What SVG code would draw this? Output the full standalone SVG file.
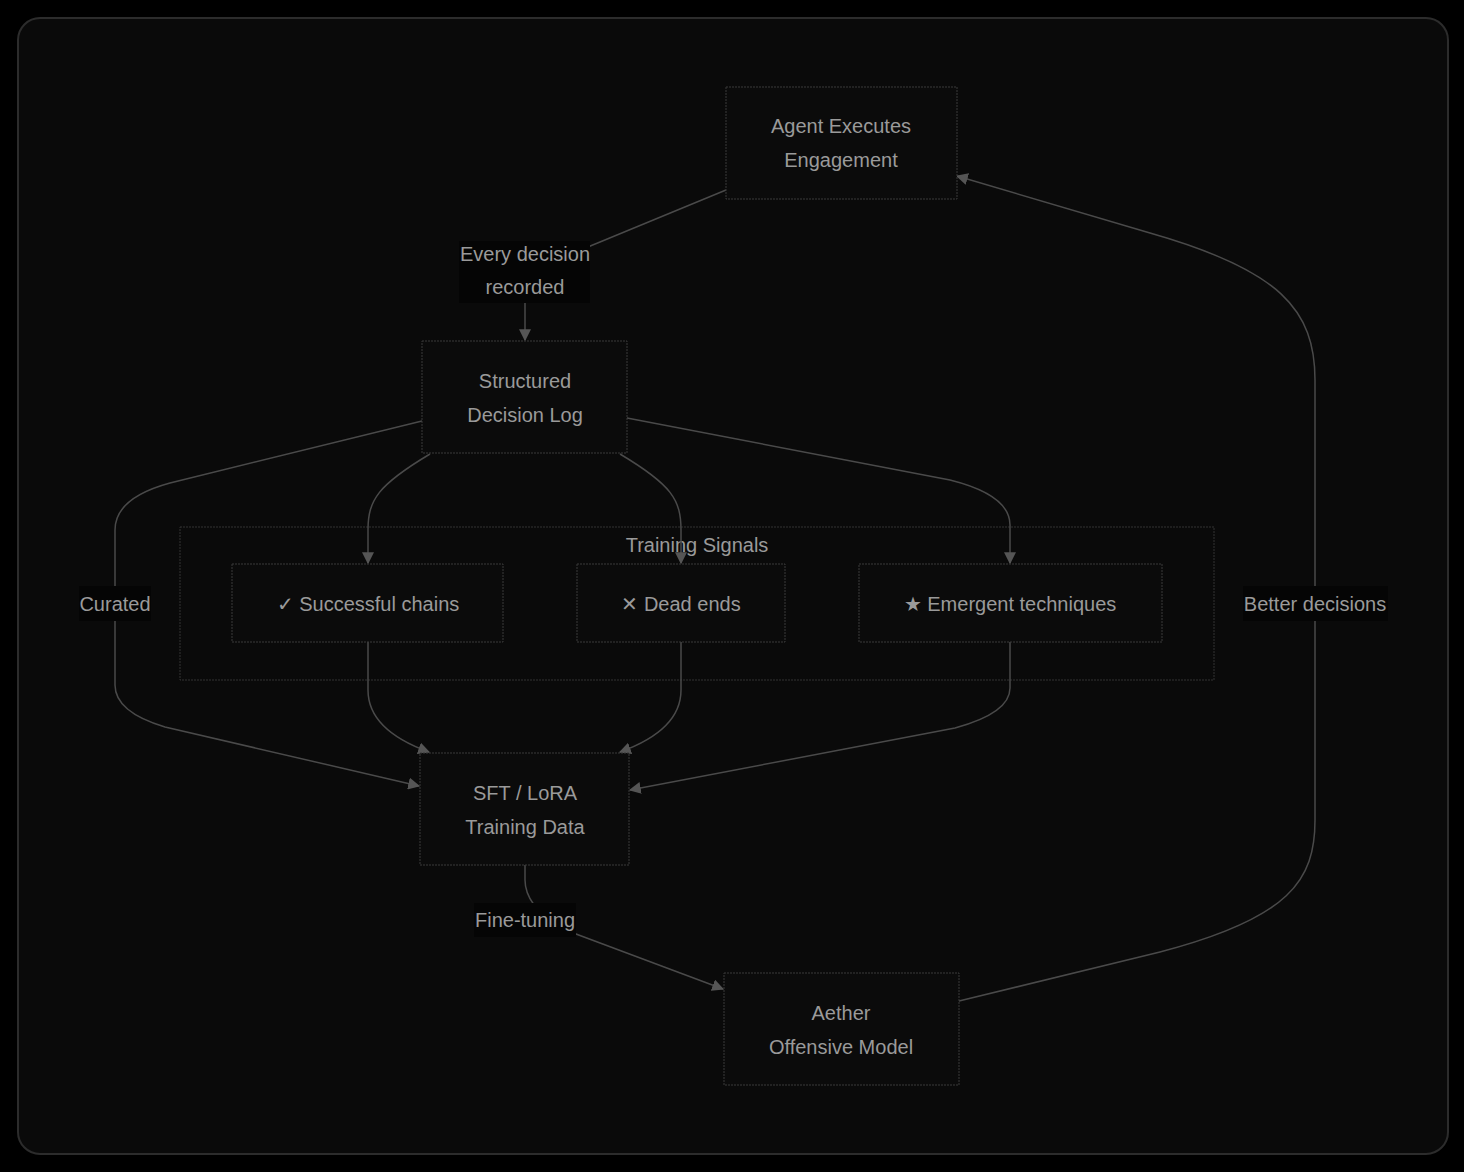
<svg xmlns="http://www.w3.org/2000/svg" width="1464" height="1172" viewBox="0 0 1464 1172">
<defs>
<style>
.node rect{fill:#0b0b0b;stroke:#3a3a3a;stroke-width:1;stroke-dasharray:2 1}
.t{font-family:"Liberation Sans",Arial,sans-serif;font-size:20px;fill:#9a9a9a;text-anchor:middle}
.edge{fill:none;stroke:#4a4a4a;stroke-width:1.5}
.lbl{fill:#050505}
</style>
<marker id="arr" viewBox="0 0 10 10" refX="9" refY="5" markerWidth="12" markerHeight="12" markerUnits="userSpaceOnUse" orient="auto">
<path d="M0,0 L10,5 L0,10 z" fill="#555"/>
</marker>
</defs>
<rect x="0" y="0" width="1464" height="1172" fill="#000"/>
<rect x="18" y="18" width="1430" height="1136" rx="22" fill="#0a0a0a" stroke="#2c2c2c" stroke-width="2"/>

<g id="cluster-training-signals">
<rect x="180" y="527" width="1034" height="153" fill="#0a0a0a" stroke="#333" stroke-width="1" stroke-dasharray="2 1"/>
<text class="t" x="697" y="552">Training Signals</text>
</g>

<g id="connectors">
<path class="edge" d="M726,190 L600,242 Q525,272 525,300 L525,340" marker-end="url(#arr)"/>
<path class="edge" d="M422,421 L170,483 Q115,498 115,530 L115,685 Q115,712 165,727 L419,786" marker-end="url(#arr)"/>
<path class="edge" d="M430,454 C378,485 368,500 368,530 L368,563" marker-end="url(#arr)"/>
<path class="edge" d="M620,454 C672,485 681,500 681,530 L681,563" marker-end="url(#arr)"/>
<path class="edge" d="M627,418 L950,480 Q1010,495 1010,525 L1010,563" marker-end="url(#arr)"/>
<path class="edge" d="M368,642 L368,690 Q368,730 429,752" marker-end="url(#arr)"/>
<path class="edge" d="M681,642 L681,690 Q681,730 620,752" marker-end="url(#arr)"/>
<path class="edge" d="M1010,642 L1010,688 Q1010,713 955,728 L630,790" marker-end="url(#arr)"/>
<path class="edge" d="M525,865 L525,880 Q525,905 560,928 L723,989" marker-end="url(#arr)"/>
<path class="edge" d="M959,1001 L1160,952 C1290,918 1315,880 1315,820 L1315,380 C1315,310 1280,270 1150,233 L957,176" marker-end="url(#arr)"/>
</g>

<g id="edge-labels">
<rect class="lbl" x="459" y="241" width="131" height="62"/>
<text class="t" x="525" y="261">Every decision</text>
<text class="t" x="525" y="294">recorded</text>
<rect class="lbl" x="79" y="586" width="72" height="35"/>
<text class="t" x="115" y="611">Curated</text>
<rect class="lbl" x="1243" y="586" width="145" height="35"/>
<text class="t" x="1315" y="611">Better decisions</text>
<rect class="lbl" x="474" y="903" width="102" height="34"/>
<text class="t" x="525" y="927">Fine-tuning</text>
</g>

<g id="agent" class="node">
<rect x="726" y="87" width="231" height="112"/>
<text class="t" x="841" y="133">Agent Executes</text>
<text class="t" x="841" y="167">Engagement</text>
</g>
<g id="decision-log" class="node">
<rect x="422" y="341" width="205" height="112"/>
<text class="t" x="525" y="388">Structured</text>
<text class="t" x="525" y="422">Decision Log</text>
</g>
<g id="successful" class="node">
<rect x="232" y="564" width="271" height="78"/>
<text class="t" x="368" y="611">✓ Successful chains</text>
</g>
<g id="dead-ends" class="node">
<rect x="577" y="564" width="208" height="78"/>
<text class="t" x="681" y="611">✕ Dead ends</text>
</g>
<g id="emergent" class="node">
<rect x="859" y="564" width="303" height="78"/>
<text class="t" x="1010" y="611">★ Emergent techniques</text>
</g>
<g id="training-data" class="node">
<rect x="420" y="753" width="209" height="112"/>
<text class="t" x="525" y="800">SFT / LoRA</text>
<text class="t" x="525" y="834">Training Data</text>
</g>
<g id="aether" class="node">
<rect x="724" y="973" width="235" height="112"/>
<text class="t" x="841" y="1020">Aether</text>
<text class="t" x="841" y="1054">Offensive Model</text>
</g>
</svg>
